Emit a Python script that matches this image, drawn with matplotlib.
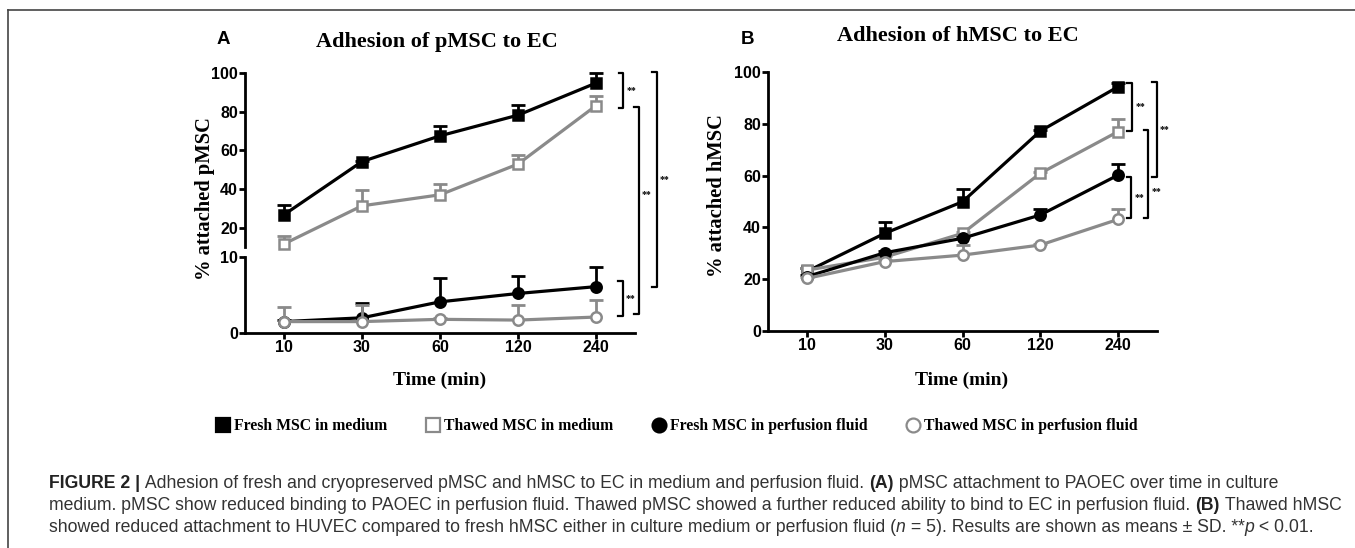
import numpy as np
import matplotlib
matplotlib.use("Agg")
import matplotlib.pyplot as plt
from matplotlib.lines import Line2D

W, H = 1355, 548

# x categories (time, min)
times = ["10", "30", "60", "120", "240"]
series_names = ["Fresh MSC in medium", "Thawed MSC in medium",
                "Fresh MSC in perfusion fluid", "Thawed MSC in perfusion fluid"]

# panel A: pMSC (means and upper SD)
a_fresh_med = [26.7, 54.2, 67.5, 78.2, 94.8]
a_fresh_med_sd = [5.0, 0.3, 5.2, 5.2, 5.0]
a_thawed_med = [11.6, 31.3, 37.0, 52.9, 83.1]
a_thawed_med_sd = [4.2, 8.0, 5.4, 4.8, 4.8]
a_fresh_perf = [1.5, 2.0, 4.1, 5.2, 6.1]
a_fresh_perf_sd = [0.2, 1.9, 3.1, 2.3, 2.6]
a_thawed_perf = [1.5, 1.5, 1.8, 1.7, 2.1]
a_thawed_perf_sd = [1.9, 2.2, 0.2, 2.0, 2.2]

# panel B: hMSC
b_fresh_med = [23.0, 37.7, 49.9, 77.2, 94.3]
b_fresh_med_sd = [1.5, 4.5, 4.8, 0.5, 1.5]
b_thawed_med = [23.5, 28.5, 37.7, 60.9, 77.0]
b_thawed_med_sd = [0.8, 0.5, 0.5, 0.5, 5.0]
b_fresh_perf = [21.0, 30.2, 35.8, 44.8, 60.2]
b_fresh_perf_sd = [0.5, 0.5, 0.5, 2.3, 4.2]
b_thawed_perf = [20.3, 26.8, 29.3, 33.2, 43.1]
b_thawed_perf_sd = [0.5, 0.5, 3.8, 0.5, 4.0]

GRAY = "#8a8a8a"
styles = [dict(color="black", marker="s", mfc="black"),
          dict(color=GRAY, marker="s", mfc="white"),
          dict(color="black", marker="o", mfc="black"),
          dict(color=GRAY, marker="o", mfc="white")]

SANS = "Liberation Sans"
SERIF = "Liberation Serif"


def px(x, y):
    return x / W, 1 - y / H


def axes_px(left, top, right, bottom):
    return [left / W, 1 - bottom / H, (right - left) / W, (bottom - top) / H]


def style_axis(ax):
    for s in ["top", "right"]:
        ax.spines[s].set_visible(False)
    for s in ["left", "bottom"]:
        ax.spines[s].set_linewidth(2.0)
    ax.tick_params(width=2.0, length=4, labelsize=11.5, pad=1)
    for lab in ax.get_xticklabels() + ax.get_yticklabels():
        lab.set_fontfamily(SANS)
        lab.set_fontweight("bold")
    ax.set_xlim(-0.5, 4.5)
    ax.patch.set_alpha(0)


def draw_series(ax, vals, sd, st, z):
    x = np.arange(len(times))
    vals = np.array(vals)
    top = vals + np.array(sd)
    # upper SD only
    ax.vlines(x, vals, top, color=st["color"], lw=2.0, zorder=z, clip_on=False)
    ax.plot(x, top, ls="none", marker="_", ms=10, mew=2.0, color=st["color"],
            zorder=z, clip_on=False)
    ax.plot(x, vals, color=st["color"], marker=st["marker"], mfc=st["mfc"],
            mec=st["color"], ms=7.5, mew=1.8, lw=2.3, zorder=z + 0.5, clip_on=False)


fig = plt.figure(figsize=(W / 100, H / 100), dpi=100)

# ---- panel A (broken y axis) ----
ax_up = fig.add_axes(axes_px(245, 73, 635, 247))
ax_lo = fig.add_axes(axes_px(245, 257, 635, 333))
draw_series(ax_up, a_fresh_med, a_fresh_med_sd, styles[0], 3)
draw_series(ax_up, a_thawed_med, a_thawed_med_sd, styles[1], 4)
draw_series(ax_lo, a_fresh_perf, a_fresh_perf_sd, styles[2], 3)
draw_series(ax_lo, a_thawed_perf, a_thawed_perf_sd, styles[3], 4)
ax_up.set_ylim(10, 100)
ax_up.set_yticks([20, 40, 60, 80, 100])
ax_up.spines["bottom"].set_visible(False)
ax_up.set_xticks([])
ax_lo.set_ylim(0, 10)
ax_lo.set_yticks([0, 10])
ax_lo.set_xticks(range(len(times)))
ax_lo.set_xticklabels(times)
style_axis(ax_up)
style_axis(ax_lo)

# ---- panel B ----
ax_b = fig.add_axes(axes_px(768, 72, 1157, 331))
draw_series(ax_b, b_fresh_med, b_fresh_med_sd, styles[0], 3)
draw_series(ax_b, b_thawed_med, b_thawed_med_sd, styles[1], 4)
draw_series(ax_b, b_fresh_perf, b_fresh_perf_sd, styles[2], 5)
draw_series(ax_b, b_thawed_perf, b_thawed_perf_sd, styles[3], 6)
ax_b.set_ylim(0, 100)
ax_b.set_yticks([0, 20, 40, 60, 80, 100])
ax_b.set_xticks(range(len(times)))
ax_b.set_xticklabels(times)
style_axis(ax_b)

inv = fig.transFigure.inverted()


def bracket(ax_t, yt, ax_b_, yb, x, ty=None, tick=0.06):
    pt = inv.transform(ax_t.transData.transform((x, yt)))
    pb = inv.transform(ax_b_.transData.transform((x, yb)))
    dx = inv.transform(ax_t.transData.transform((x - tick, yt)))[0]
    fig.add_artist(Line2D([dx, pt[0], pb[0], dx], [pt[1], pt[1], pb[1], pb[1]],
                          transform=fig.transFigure, color="black", lw=1.6))
    ym = (pt[1] + pb[1]) / 2 if ty is None else inv.transform(ax_t.transData.transform((x, ty)))[1]
    fig.text(pt[0] + 3 / W, ym, "**", fontsize=7, family=SERIF, fontweight="bold",
             ha="left", va="center")


fig.canvas.draw()
bracket(ax_up, 100, ax_up, 81.8, 4.35)
bracket(ax_up, 82.6, ax_lo, 2.5, 4.55, ty=37)
bracket(ax_up, 100.3, ax_lo, 6.1, 4.78)
bracket(ax_lo, 6.8, ax_lo, 2.3, 4.34)
bracket(ax_b, 95.9, ax_b, 77.2, 4.18)
bracket(ax_b, 96.1, ax_b, 59.3, 4.50)
bracket(ax_b, 59.6, ax_b, 43.5, 4.17)
bracket(ax_b, 77.6, ax_b, 43.5, 4.39, ty=53.8)

# ---- titles and labels ----
fig.text(*px(223, 40), "A", fontsize=13.5, family=SANS, fontweight="bold", ha="center", va="center")
fig.text(*px(747, 40), "B", fontsize=13.5, family=SANS, fontweight="bold", ha="center", va="center")
fig.text(*px(437, 42), "Adhesion of pMSC to EC", fontsize=16, family=SERIF,
         fontweight="bold", ha="center", va="center")
fig.text(*px(958, 36), "Adhesion of hMSC to EC", fontsize=16, family=SERIF,
         fontweight="bold", ha="center", va="center")
fig.text(*px(205, 199), "% attached pMSC", fontsize=14.8, family=SERIF,
         fontweight="bold", rotation=90, ha="center", va="center")
fig.text(*px(717, 196), "% attached hMSC", fontsize=14.8, family=SERIF,
         fontweight="bold", rotation=90, ha="center", va="center")
fig.text(*px(440, 380), "Time (min)", fontsize=14, family=SERIF,
         fontweight="bold", ha="center", va="center")
fig.text(*px(962, 380), "Time (min)", fontsize=14, family=SERIF,
         fontweight="bold", ha="center", va="center")

# ---- legend ----
handles = [Line2D([], [], ls="none", marker=st["marker"], color=st["color"],
                  mfc=st["mfc"], mec=st["color"], ms=10, mew=1.6) for st in styles]
fig.legend(handles, series_names, ncol=4, loc="center left",
           bbox_to_anchor=px(203, 426), frameon=False, handlelength=0.8,
           handletextpad=0.3, columnspacing=2.5,
           prop=dict(family=SERIF, weight="bold", size=11.3))

# ---- frame ----
fig.add_artist(Line2D([8 / W, 8 / W], [0, 1 - 10 / H], transform=fig.transFigure,
                      color="#444444", lw=1.2))
fig.add_artist(Line2D([8 / W, 1], [1 - 10 / H, 1 - 10 / H], transform=fig.transFigure,
                      color="#444444", lw=1.2))

# ---- caption ----
cap_lines = [
    [("FIGURE 2 |", "bold", "normal"),
     (" Adhesion of fresh and cryopreserved pMSC and hMSC to EC in medium and perfusion fluid. ", "normal", "normal"),
     ("(A)", "bold", "normal"),
     (" pMSC attachment to PAOEC over time in culture", "normal", "normal")],
    [("medium. pMSC show reduced binding to PAOEC in perfusion fluid. Thawed pMSC showed a further reduced ability to bind to EC in perfusion fluid. ", "normal", "normal"),
     ("(B)", "bold", "normal"),
     (" Thawed hMSC", "normal", "normal")],
    [("showed reduced attachment to HUVEC compared to fresh hMSC either in culture medium or perfusion fluid (", "normal", "normal"),
     ("n", "normal", "italic"),
     (" = 5). Results are shown as means \u00b1 SD. **", "normal", "normal"),
     ("p", "normal", "italic"),
     (" < 0.01.", "normal", "normal")],
]
cap_y = [484, 506, 527]
renderer = fig.canvas.get_renderer()


def run_width(runs, size):
    total = 0
    for txt, wt, sty in runs:
        t = fig.text(0, 0, txt.replace(" ", "\u00a0"), fontsize=size, family=SANS,
                     fontweight=wt, fontstyle=sty)
        total += t.get_window_extent(renderer).width
        t.remove()
    return total


trial = 12
cap_size = trial * (1345 - 49) / run_width(cap_lines[1], trial)

for runs, y in zip(cap_lines, cap_y):
    x = 49
    for txt, wt, sty in runs:
        t = fig.text(*px(x, y), txt.replace(" ", "\u00a0"), fontsize=cap_size, family=SANS,
                     fontweight=wt, fontstyle=sty, color="#333333" if wt == "normal" else "#222222",
                     ha="left", va="center")
        x += t.get_window_extent(renderer).width

fig.savefig("out.png", dpi=100)
